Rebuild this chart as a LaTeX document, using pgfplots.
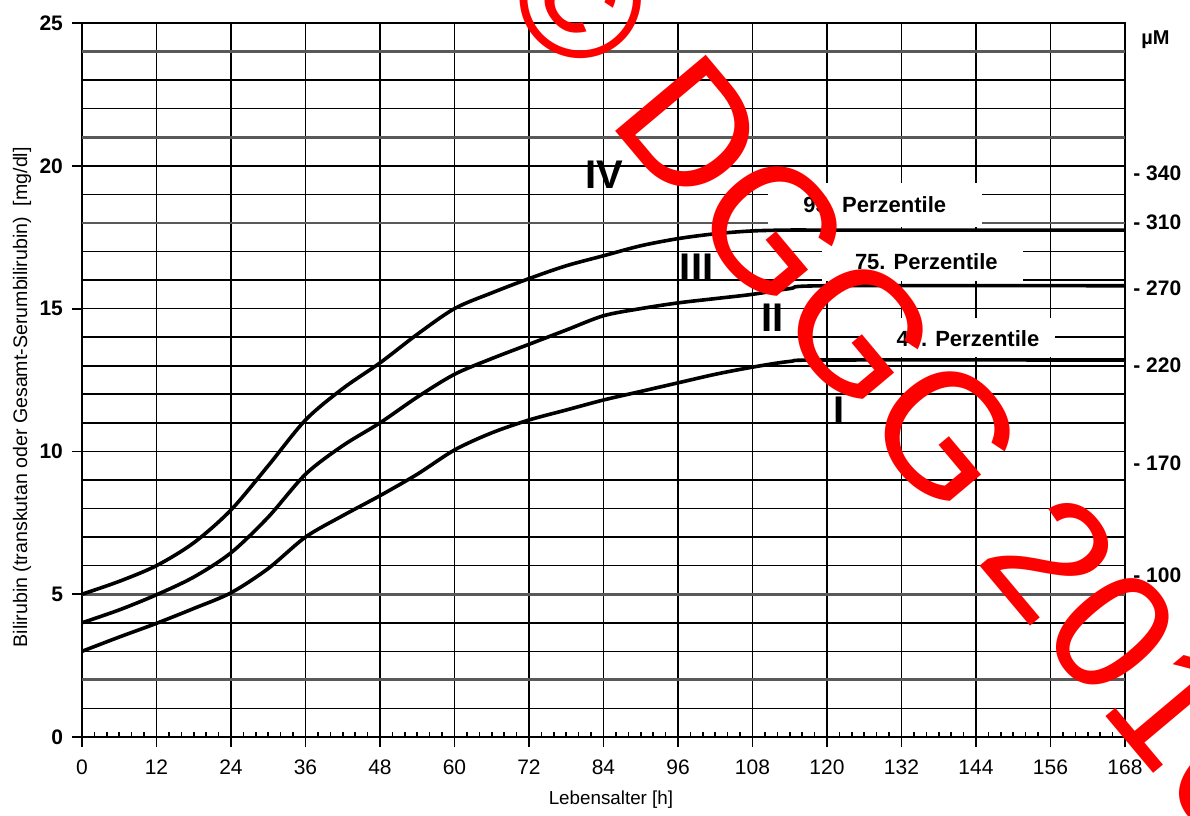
\documentclass[border=0pt]{standalone}
\usepackage{fontspec}
\setmainfont{Liberation Sans}
\usepackage{pgfplots}
\pgfplotsset{compat=1.18}
\usepackage{pgfplotstable}

\pgfplotstableread{
h y
0 5.0
6 5.45
12 6.0
18 6.8
24 7.95
30 9.5
36 11.1
42 12.2
48 13.1
54 14.1
60 15.0
66 15.55
72 16.05
78 16.5
84 16.85
90 17.2
96 17.45
102 17.62
108 17.72
114 17.75
120 17.75
168 17.75
}\pfour

\pgfplotstableread{
h y
0 4.0
6 4.45
12 4.98
18 5.6
24 6.45
30 7.7
36 9.2
42 10.2
48 11.0
54 11.9
60 12.7
66 13.25
72 13.75
78 14.25
84 14.75
90 15.0
96 15.2
102 15.35
108 15.5
114 15.7
120 15.8
168 15.8
}\pthree

\pgfplotstableread{
h y
0 3.0
6 3.5
12 3.98
18 4.5
24 5.05
30 5.9
36 7.0
42 7.75
48 8.45
54 9.2
60 10.05
66 10.65
72 11.1
78 11.45
84 11.8
90 12.1
96 12.4
102 12.7
108 12.95
114 13.15
120 13.2
168 13.2
}\pone

\begin{document}
\begin{tikzpicture}
\begin{axis}[
  scale only axis, width=521.5pt, height=357pt,
  xmin=0, xmax=168, ymin=0, ymax=25,
  xtick={0,12,...,168}, ytick={0,5,...,25},
  tick align=outside, major tick length=5pt,
  tick pos=left,
  xmajorgrids, major x grid style={black, line width=0.9pt},
  axis line style={black, line width=1pt},
  tick style={black, line width=0.9pt},
  /pgf/number format/assume math mode=true,
  xticklabel style={font=\fontsize{10.5}{12}\selectfont, yshift=-3pt},
  yticklabel style={font=\bfseries\fontsize{10.5}{12}\selectfont, xshift=-1pt},
  clip=false,
]
% horizontal grid
\pgfplotsinvokeforeach{1,3,4,6,7,8,9,10,11,12,13,14,15,16,17,19,20,22,23}{
  \draw[black, line width=0.8pt] (axis cs:0,#1) -- (axis cs:168,#1);
}
\pgfplotsinvokeforeach{2,5,18,21,24}{
  \draw[black!65, line width=1.4pt] (axis cs:0,#1) -- (axis cs:168,#1);
}
% minor x ticks (inside)
\pgfplotsinvokeforeach{2,4,...,166}{
  \draw[black, line width=0.8pt] (axis cs:#1,0) -- ++(0pt,2.5pt);
}
% white label boxes
\fill[white] (axis cs:110.5,17.85) rectangle (axis cs:145,19.4);
\fill[white] (axis cs:119.2,15.95) rectangle (axis cs:151.6,17.8);
\fill[white] (axis cs:125.8,13.32) rectangle (axis cs:156.7,14.67);
% curves
\addplot[black, line width=1.8pt, smooth, tension=0.5] table[x=h,y=y] {\pfour};
\addplot[black, line width=1.8pt, smooth, tension=0.5] table[x=h,y=y] {\pthree};
\addplot[black, line width=1.8pt, smooth, tension=0.5] table[x=h,y=y] {\pone};
% roman numerals
\node[font=\bfseries\fontsize{20}{20}\selectfont] at (axis cs:84.2,19.68) {IV};
\node[font=\bfseries\fontsize{20}{20}\selectfont] at (axis cs:99.0,16.42) {III};
\node[font=\bfseries\fontsize{20}{20}\selectfont] at (axis cs:111.2,14.67) {II};
\node[font=\bfseries\fontsize{20}{20}\selectfont] at (axis cs:121.9,11.41) {I};
% percentile labels
\node[font=\bfseries\fontsize{11}{12}\selectfont] at (axis cs:127.7,18.63) {95. Perzentile};
\node[font=\bfseries\fontsize{11}{12}\selectfont] at (axis cs:136.0,16.63) {75. Perzentile};
\node[font=\bfseries\fontsize{11}{12}\selectfont] at (axis cs:142.7,13.94) {40. Perzentile};
% right-hand micromolar scale
\node[anchor=west, inner sep=0pt, xshift=4pt, font=\bfseries\fontsize{10.5}{12}\selectfont] at (axis cs:168,19.75) {- 340};
\node[anchor=west, inner sep=0pt, xshift=4pt, font=\bfseries\fontsize{10.5}{12}\selectfont] at (axis cs:168,18.03) {- 310};
\node[anchor=west, inner sep=0pt, xshift=4pt, font=\bfseries\fontsize{10.5}{12}\selectfont] at (axis cs:168,15.72) {- 270};
\node[anchor=west, inner sep=0pt, xshift=4pt, font=\bfseries\fontsize{10.5}{12}\selectfont] at (axis cs:168,13.03) {- 220};
\node[anchor=west, inner sep=0pt, xshift=4pt, font=\bfseries\fontsize{10.5}{12}\selectfont] at (axis cs:168,9.6) {- 170};
\node[anchor=west, inner sep=0pt, xshift=4pt, font=\bfseries\fontsize{10.5}{12}\selectfont] at (axis cs:168,5.67) {- 100};
\node[anchor=west, inner sep=0pt, xshift=8pt, font=\bfseries\fontsize{10}{12}\selectfont] at (axis cs:168,24.4) {µM};
% axis labels
\node[rotate=90, font=\fontsize{9.8}{12}\selectfont] at (axis cs:-9.66,11.9) {Bilirubin (transkutan oder Gesamt-Serumbilirubin)\ \ [mg/dl]};
\node[font=\fontsize{9.4}{12}\selectfont] at (axis cs:85.2,-2.2) {Lebensalter [h]};
% watermark
\node[overlay, red, rotate=-50, inner sep=0pt, font=\fontsize{86}{86}\selectfont] at (axis cs:132.2,12.43) {© DGGG 2010};
\end{axis}
\path (-41pt,-36.5pt) rectangle (554pt,368.5pt);
\end{tikzpicture}
\end{document}
